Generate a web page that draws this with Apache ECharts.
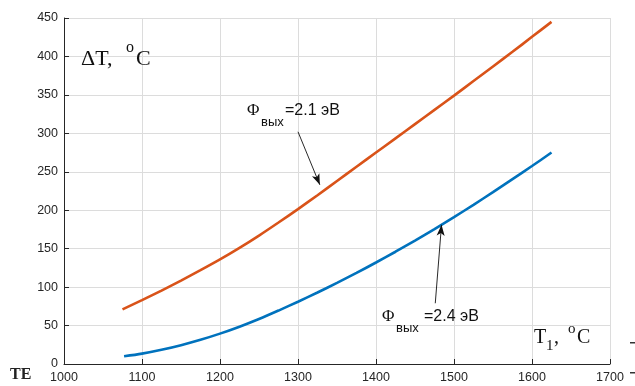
<!DOCTYPE html>
<html>
<head>
<meta charset="utf-8">
<script src="https://cdn.jsdelivr.net/npm/echarts@6/dist/echarts.min.js"></script>
<style>html,body{margin:0;padding:0;background:#fff}#c{width:635px;height:386px}</style>
</head>
<body>
<div id="c"></div>
<script>
// Data
const T1_orange = [1075,1100,1125,1150,1175,1200,1225,1250,1275,1300,1325,1350,1375,1400,1425,1450,1475,1500,1525,1550,1575,1600,1625];
const dT_orange = [71,83,95.5,108.5,122,136,151,167,184,201.5,219.5,238,256.5,275,293.5,312,330.5,349,368,387,406,425.5,445];
const T1_blue = [1077,1100,1125,1150,1175,1200,1225,1250,1275,1300,1325,1350,1375,1400,1425,1450,1475,1500,1525,1550,1575,1600,1625];
const dT_blue = [10,13.5,18.5,24.5,31.5,39.5,48.5,58.5,69.5,81,93,105.5,118.5,132,146,160.5,175.5,191,207,223.5,240.5,257.5,275];
const xTicks = [1000,1100,1200,1300,1400,1500,1600,1700];
const yTicks = [0,50,100,150,200,250,300,350,400,450];
// annotation arrows in data units [from, to]
const arrowOrange = [[1300,302],[1328,233]];
const arrowBlue = [[1476,79],[1484,181]];

const chart = echarts.init(document.getElementById('c'));
const axisCol = '#262626';
const gridCol = '#dcdcdc';
function zip(a,b){return a.map((v,i)=>[v,b[i]]);}
function arrow(a){
  return {
    silent:true, symbol:['none','arrow'], symbolSize:[6,11],
    lineStyle:{color:'#111',width:0.9,type:'solid'}, label:{show:false},
    data:[[{coord:a[0]},{coord:a[1]}]]
  };
}
function txt(x,y,s,size,fam){
  return {type:'text',left:x,top:y,z:100,style:{text:s,fontSize:size,fontFamily:fam,fill:'#111'}};
}
const SERIF='Liberation Serif', SANS='Liberation Sans';
chart.setOption({
  animation:false,
  grid:{left:64,right:25,top:18,bottom:22,containLabel:false},
  xAxis:{type:'value',min:xTicks[0],max:xTicks[xTicks.length-1],interval:100,
    axisLine:{show:true,lineStyle:{color:axisCol,width:1}},
    axisTick:{show:true,inside:true,length:5,lineStyle:{color:axisCol}},
    axisLabel:{color:axisCol,fontFamily:SANS,fontSize:12.5,margin:7,formatter:v=>String(v)},
    splitLine:{show:true,lineStyle:{color:gridCol,width:1}}},
  yAxis:{type:'value',min:yTicks[0],max:yTicks[yTicks.length-1],interval:50,
    axisLine:{show:true,lineStyle:{color:axisCol,width:1}},
    axisTick:{show:true,inside:true,length:5,lineStyle:{color:axisCol}},
    axisLabel:{color:axisCol,fontFamily:SANS,fontSize:12.5,margin:6,formatter:v=>String(v)},
    splitLine:{show:true,lineStyle:{color:gridCol,width:1}}},
  series:[
    {type:'line',data:zip(T1_orange,dT_orange),smooth:0.3,symbol:'none',
     lineStyle:{color:'#D95319',width:2.6},markLine:arrow(arrowOrange)},
    {type:'line',data:zip(T1_blue,dT_blue),smooth:0.3,symbol:'none',
     lineStyle:{color:'#0072BD',width:2.6},markLine:arrow(arrowBlue)}
  ],
  graphic:[
    txt(81,48,'ΔT,',22,SERIF),
    txt(126,40,'o',16,SERIF),
    txt(136,48,'C',22,SERIF),
    txt(534,328,'T',20,SERIF),
    txt(546,339,'1',15,SERIF),
    txt(554,328,',',20,SERIF),
    txt(568,322,'o',15,SERIF),
    txt(577,328,'C',20,SERIF),
    // orange label
    txt(247,102,'Φ',17,SERIF),
    txt(261,116,'вых',13,SANS),
    txt(285,103,'=2.1 эВ',16,SANS),
    // blue label
    txt(382,308,'Φ',17,SERIF),
    txt(396,322,'вых',13,SANS),
    txt(424,309,'=2.4 эВ',16,SANS),
    // page artifacts
    {type:'text',left:10,top:367,style:{text:'ТЕ',fontSize:16,fontWeight:'bold',fontFamily:SERIF,fill:'#222'}},
    {type:'rect',shape:{x:630,y:342,width:5,height:1.5},style:{fill:'#333'}},
    {type:'rect',shape:{x:630,y:372,width:5,height:1.5},style:{fill:'#333'}}
  ]
});
</script>
</body>
</html>
